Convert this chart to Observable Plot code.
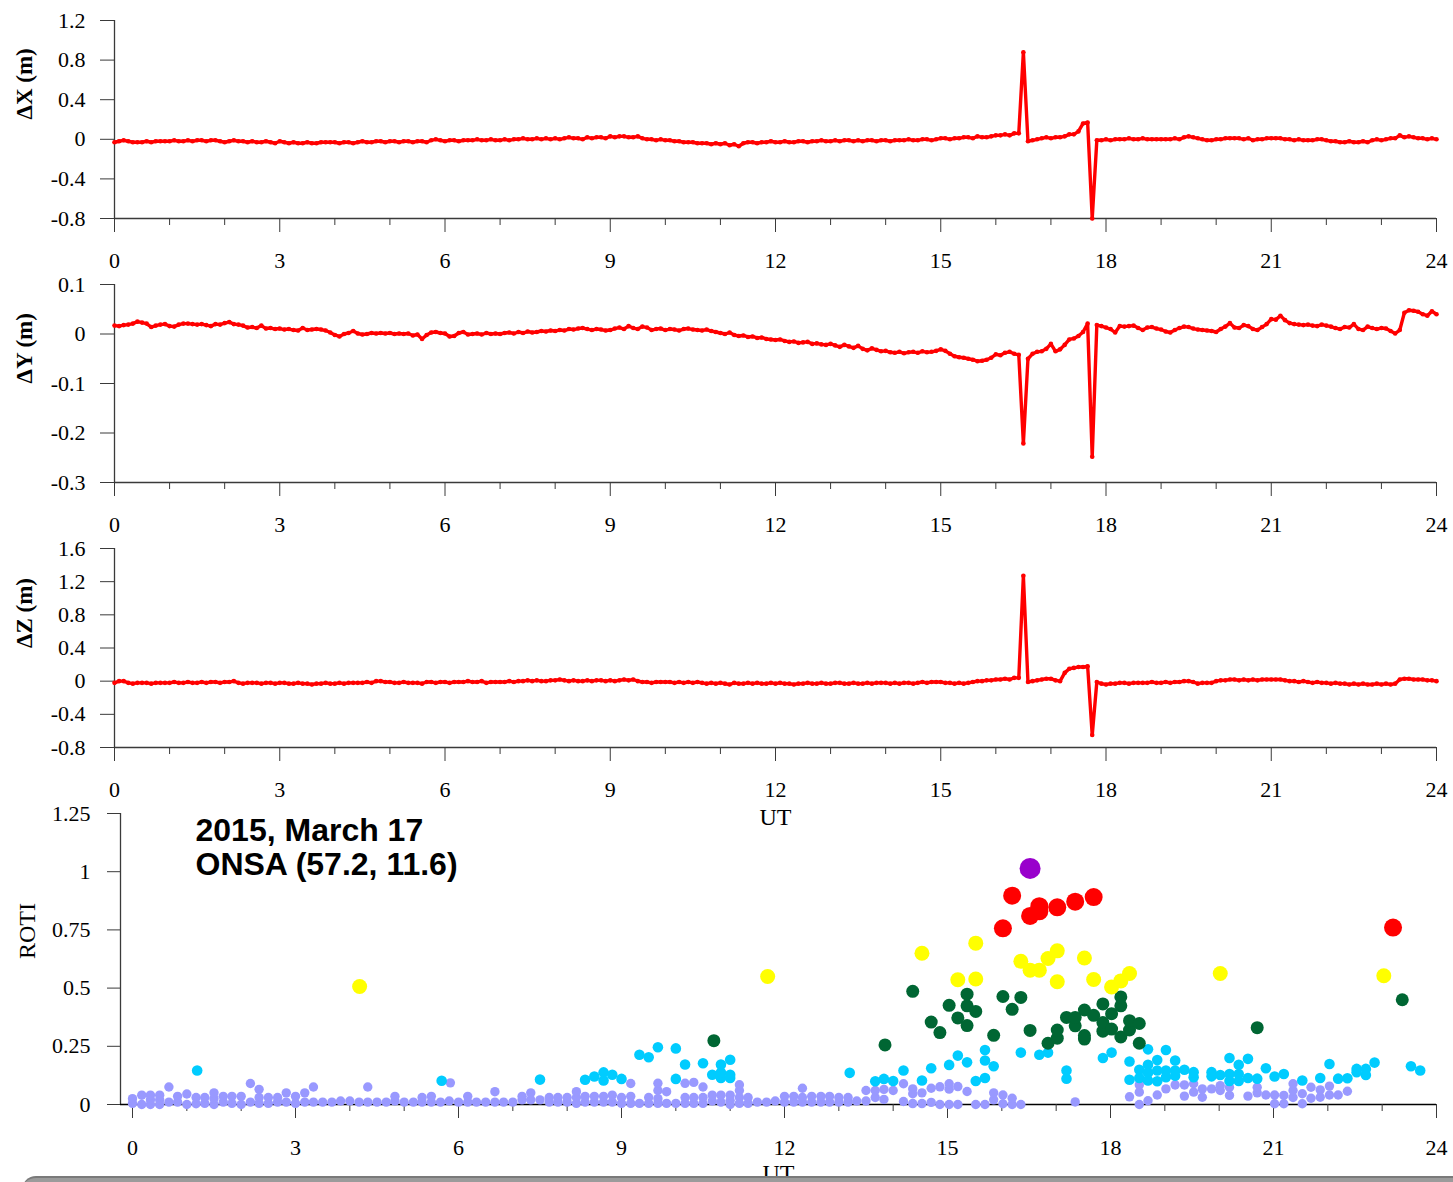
<!DOCTYPE html>
<html><head><meta charset="utf-8">
<script src="https://cdn.jsdelivr.net/npm/d3@7"></script>
<script src="https://cdn.jsdelivr.net/npm/@observablehq/plot@0.6"></script>
<style>
html,body{margin:0;padding:0;background:#fff;}
#root{position:relative;width:1453px;height:1182px;overflow:hidden;background:#fff;}
#root > svg{position:absolute;left:0;}
.bar{position:absolute;left:22px;top:1176px;width:1460px;height:30px;border-radius:14px;background:#9b9b9b;border-top:2px solid #7a7a7a;}
</style></head><body><div id="root"></div><script>
// ---- sampling step of the position series: 5 minutes ----
const stepHours = 5 / 60;

// ΔX (m), 5-min samples, 00:00 .. 24:00 (one row per hour)
const deltaX = [
-0.03,-0.02,-0.01,-0.02,-0.03,-0.03,-0.03,-0.02,-0.03,-0.02,-0.02,-0.02,
-0.02,-0.01,-0.02,-0.02,-0.01,-0.02,-0.01,-0.01,-0.02,-0.01,-0.01,-0.02,
-0.03,-0.02,-0.01,-0.02,-0.02,-0.03,-0.02,-0.03,-0.03,-0.02,-0.03,-0.04,
-0.02,-0.03,-0.04,-0.03,-0.04,-0.04,-0.03,-0.04,-0.04,-0.03,-0.03,-0.03,
-0.03,-0.04,-0.03,-0.03,-0.04,-0.03,-0.02,-0.03,-0.03,-0.02,-0.02,-0.03,
-0.02,-0.02,-0.03,-0.02,-0.02,-0.03,-0.02,-0.02,-0.03,-0.01,0.00,-0.01,
-0.02,-0.01,-0.01,-0.02,-0.01,-0.01,-0.01,0.00,-0.01,-0.01,0.00,-0.01,
-0.01,0.00,-0.01,0.00,0.00,0.01,0.00,0.00,0.01,0.00,0.01,0.00,
0.01,0.00,0.01,0.02,0.01,0.01,0.00,0.02,0.01,0.02,0.02,0.01,
0.03,0.02,0.03,0.03,0.02,0.02,0.03,0.01,0.00,0.00,-0.01,0.00,
-0.01,-0.01,-0.02,-0.02,-0.03,-0.03,-0.03,-0.04,-0.04,-0.04,-0.05,-0.04,
-0.05,-0.04,-0.06,-0.05,-0.07,-0.04,-0.03,-0.03,-0.04,-0.03,-0.03,-0.02,
-0.03,-0.03,-0.02,-0.03,-0.03,-0.02,-0.02,-0.03,-0.02,-0.02,-0.01,-0.02,
-0.02,-0.01,-0.02,-0.01,-0.01,-0.02,-0.01,-0.02,-0.01,-0.01,-0.02,-0.01,
-0.01,-0.02,-0.01,-0.01,-0.01,0.00,-0.01,-0.01,0.00,0.00,-0.01,0.00,
0.01,0.01,0.00,0.01,0.01,0.02,0.02,0.01,0.03,0.02,0.02,0.03,
0.04,0.04,0.05,0.04,0.06,0.06,0.88,-0.02,-0.01,0.00,0.01,0.02,
0.01,0.02,0.02,0.03,0.05,0.05,0.08,0.16,0.17,-0.80,-0.01,-0.01,
0.00,-0.01,0.00,0.00,0.00,0.01,0.00,0.00,0.01,0.00,0.00,0.00,
0.00,0.00,0.00,0.01,0.00,0.02,0.03,0.02,0.01,0.00,-0.01,-0.01,
0.00,0.00,0.01,0.01,0.01,0.01,0.00,0.01,-0.01,0.00,0.00,0.01,
0.01,0.01,0.01,0.00,0.00,-0.01,0.00,-0.01,-0.01,-0.01,0.00,0.00,
-0.01,-0.02,-0.02,-0.03,-0.03,-0.02,-0.03,-0.03,-0.02,-0.03,-0.01,0.00,
-0.01,0.00,0.01,0.01,0.04,0.02,0.03,0.02,0.01,0.01,0.00,0.01,
0.00];

// ΔY (m)
const deltaY = [
0.017,0.016,0.018,0.019,0.021,0.025,0.023,0.021,0.014,0.017,0.019,0.020,
0.016,0.015,0.019,0.021,0.021,0.020,0.019,0.020,0.018,0.016,0.020,0.019,
0.022,0.024,0.020,0.019,0.017,0.013,0.014,0.012,0.017,0.011,0.012,0.010,
0.011,0.009,0.010,0.008,0.007,0.012,0.008,0.009,0.010,0.009,0.007,0.003,
-0.002,-0.005,0.000,0.002,0.006,0.001,-0.001,0.000,0.002,0.001,0.002,0.001,
0.002,0.000,0.001,0.000,0.001,-0.003,-0.001,-0.010,-0.002,0.003,0.004,0.002,
0.001,-0.005,-0.004,0.002,0.004,-0.001,0.000,0.001,-0.001,0.002,0.000,0.001,
0.000,0.002,0.003,0.001,0.004,0.002,0.005,0.003,0.004,0.006,0.005,0.007,
0.006,0.008,0.007,0.010,0.009,0.011,0.012,0.010,0.008,0.010,0.009,0.007,
0.008,0.011,0.013,0.010,0.016,0.012,0.010,0.015,0.013,0.008,0.010,0.011,
0.008,0.010,0.009,0.007,0.010,0.011,0.009,0.008,0.007,0.009,0.006,0.004,
0.002,0.000,0.003,-0.002,-0.004,-0.003,-0.006,-0.005,-0.008,-0.007,-0.010,-0.011,
-0.012,-0.011,-0.014,-0.016,-0.015,-0.018,-0.017,-0.016,-0.020,-0.019,-0.021,-0.022,
-0.020,-0.023,-0.026,-0.022,-0.025,-0.028,-0.024,-0.030,-0.033,-0.029,-0.032,-0.035,
-0.034,-0.037,-0.038,-0.036,-0.039,-0.037,-0.036,-0.038,-0.035,-0.037,-0.036,-0.034,
-0.031,-0.034,-0.040,-0.045,-0.047,-0.048,-0.050,-0.052,-0.055,-0.054,-0.052,-0.048,
-0.041,-0.043,-0.038,-0.036,-0.040,-0.042,-0.221,-0.050,-0.040,-0.036,-0.035,-0.030,
-0.020,-0.035,-0.031,-0.022,-0.011,-0.009,-0.004,0.004,0.021,-0.248,0.018,0.016,
0.013,0.010,0.003,0.016,0.015,0.016,0.017,0.012,0.008,0.013,0.014,0.011,
0.009,0.005,0.003,0.008,0.012,0.015,0.014,0.011,0.009,0.008,0.007,0.006,
0.004,0.010,0.015,0.022,0.013,0.012,0.018,0.016,0.010,0.008,0.014,0.020,
0.030,0.029,0.037,0.028,0.022,0.020,0.019,0.018,0.019,0.017,0.016,0.019,
0.017,0.015,0.012,0.010,0.014,0.013,0.020,0.010,0.008,0.015,0.012,0.010,
0.012,0.011,0.006,0.001,0.008,0.043,0.048,0.047,0.045,0.040,0.037,0.046,
0.040];

// ΔZ (m)
const deltaZ = [
-0.02,0.00,0.00,-0.02,-0.03,-0.02,-0.02,-0.02,-0.03,-0.02,-0.02,-0.02,
-0.02,-0.01,-0.02,-0.02,-0.01,-0.02,-0.02,-0.01,-0.02,-0.01,-0.01,-0.02,
-0.01,-0.01,0.00,-0.02,-0.03,-0.02,-0.02,-0.02,-0.03,-0.02,-0.02,-0.03,
-0.02,-0.02,-0.03,-0.03,-0.02,-0.03,-0.03,-0.04,-0.03,-0.03,-0.02,-0.03,
-0.03,-0.02,-0.03,-0.02,-0.02,-0.02,-0.02,-0.01,-0.02,0.00,0.00,-0.01,
-0.01,-0.02,-0.02,-0.01,-0.02,-0.02,-0.02,-0.03,-0.01,-0.01,-0.02,-0.01,
-0.01,-0.02,-0.01,-0.01,-0.01,0.00,-0.01,-0.01,0.00,-0.02,-0.01,-0.01,
-0.01,-0.01,0.00,-0.01,0.00,0.00,0.01,0.00,0.01,0.00,0.00,0.01,
0.01,0.02,0.01,0.00,0.01,0.00,0.00,0.01,0.00,0.01,0.01,0.00,
0.01,0.00,0.01,0.02,0.01,0.02,0.00,-0.01,-0.01,-0.02,-0.01,-0.01,
-0.01,-0.01,-0.02,-0.01,-0.02,-0.01,-0.02,-0.01,-0.02,-0.03,-0.02,-0.03,
-0.02,-0.03,-0.04,-0.02,-0.03,-0.03,-0.02,-0.03,-0.02,-0.03,-0.03,-0.02,
-0.03,-0.02,-0.03,-0.03,-0.04,-0.03,-0.03,-0.02,-0.03,-0.03,-0.02,-0.03,
-0.03,-0.02,-0.02,-0.03,-0.03,-0.02,-0.03,-0.03,-0.02,-0.03,-0.02,-0.02,
-0.02,-0.03,-0.02,-0.03,-0.02,-0.02,-0.03,-0.02,-0.01,-0.02,-0.01,-0.01,
-0.01,-0.02,-0.02,-0.03,-0.02,-0.03,-0.02,-0.01,0.00,0.00,0.01,0.01,
0.02,0.02,0.03,0.02,0.04,0.04,1.27,-0.01,0.00,0.01,0.02,0.03,
0.03,0.01,0.00,0.10,0.15,0.16,0.17,0.17,0.18,-0.65,-0.01,-0.03,
-0.04,-0.03,-0.03,-0.02,-0.02,-0.03,-0.02,-0.02,-0.02,-0.02,-0.01,-0.02,
-0.02,-0.01,-0.02,-0.01,-0.01,0.00,0.00,-0.01,-0.03,-0.02,-0.02,-0.02,
0.00,0.01,0.01,0.02,0.02,0.01,0.02,0.01,0.02,0.01,0.02,0.02,
0.02,0.02,0.02,0.01,0.00,0.00,-0.01,0.00,-0.01,-0.02,-0.01,-0.02,
-0.02,-0.03,-0.02,-0.03,-0.03,-0.04,-0.03,-0.04,-0.03,-0.04,-0.04,-0.03,
-0.04,-0.03,-0.04,-0.03,0.02,0.03,0.03,0.02,0.02,0.02,0.01,0.01,
0.00];

// ROTI points: [UT hour, ROTI]
const rotiPoints = [
[0.00,0.005],[0.00,0.025],[0.17,0.00],[0.17,0.04],[0.33,0.00],[0.33,0.02],[0.33,0.04],
[0.50,0.00],[0.50,0.02],[0.50,0.04],[0.67,0.01],[0.67,0.075],[0.83,0.01],[0.83,0.035],
[1.00,0.00],[1.00,0.045],[1.17,0.003],[1.17,0.03],[1.19,0.146],[1.33,0.005],[1.33,0.03],
[1.50,0.00],[1.50,0.025],[1.50,0.05],[1.67,0.01],[1.67,0.035],[1.83,0.005],[1.83,0.035],
[2.00,0.00],[2.00,0.035],[2.17,0.01],[2.17,0.09],[2.33,0.005],[2.33,0.03],[2.33,0.065],
[2.50,0.005],[2.50,0.03],[2.67,0.01],[2.67,0.03],[2.83,0.01],[2.83,0.05],
[3.00,0.005],[3.00,0.035],[3.17,0.01],[3.17,0.05],[3.33,0.01],[3.33,0.075],
[3.50,0.01],[3.67,0.01],[3.83,0.015],[4.00,0.015],[4.17,0.01],[4.18,0.507],
[4.33,0.01],[4.33,0.075],[4.50,0.01],[4.67,0.01],[4.83,0.015],[4.83,0.035],
[5.00,0.01],[5.17,0.01],[5.33,0.01],[5.33,0.03],[5.50,0.01],[5.50,0.035],
[5.67,0.01],[5.69,0.102],[5.83,0.015],[5.85,0.093],[6.00,0.01],[6.17,0.01],[6.17,0.035],
[6.33,0.01],[6.50,0.01],[6.67,0.01],[6.67,0.055],[6.83,0.01],[7.00,0.01],
[7.17,0.02],[7.17,0.035],[7.33,0.02],[7.33,0.05],[7.50,0.02],[7.50,0.107],
[7.67,0.01],[7.67,0.03],[7.83,0.01],[7.83,0.03],[8.00,0.01],[8.00,0.03],
[8.17,0.005],[8.17,0.03],[8.17,0.055],[8.33,0.01],[8.33,0.035],[8.33,0.106],
[8.50,0.01],[8.50,0.035],[8.50,0.12],[8.67,0.01],[8.67,0.035],[8.67,0.103],[8.67,0.138],
[8.83,0.01],[8.83,0.04],[8.83,0.128],[9.00,0.005],[9.00,0.03],[9.00,0.11],
[9.17,0.005],[9.17,0.035],[9.17,0.09],[9.33,0.005],[9.33,0.214],
[9.50,0.005],[9.50,0.03],[9.50,0.203],[9.67,0.005],[9.67,0.025],[9.67,0.06],[9.67,0.091],[9.67,0.246],
[9.83,0.005],[9.83,0.055],[10.00,0.005],[10.00,0.11],[10.00,0.241],
[10.17,0.005],[10.17,0.03],[10.17,0.091],[10.17,0.172],[10.33,0.005],[10.33,0.03],[10.33,0.095],
[10.50,0.005],[10.50,0.03],[10.50,0.075],[10.50,0.177],
[10.67,0.015],[10.67,0.04],[10.67,0.128],[10.70,0.274],
[10.83,0.01],[10.83,0.04],[10.83,0.114],[10.83,0.138],[10.83,0.172],
[11.00,0.00],[11.00,0.017],[11.00,0.04],[11.00,0.114],[11.00,0.128],[11.00,0.192],
[11.17,0.005],[11.17,0.03],[11.17,0.06],[11.17,0.085],[11.33,0.005],[11.33,0.03],
[11.50,0.01],[11.67,0.01],[11.69,0.55],[11.83,0.015],
[12.00,0.01],[12.00,0.035],[12.17,0.01],[12.17,0.035],[12.33,0.01],[12.33,0.03],[12.33,0.07],
[12.50,0.01],[12.50,0.035],[12.67,0.01],[12.67,0.035],[12.83,0.01],[12.83,0.035],
[13.00,0.01],[13.00,0.03],[13.17,0.01],[13.17,0.03],[13.20,0.136],[13.33,0.015],
[13.50,0.015],[13.50,0.06],[13.67,0.03],[13.67,0.06],[13.67,0.10],
[13.83,0.022],[13.83,0.065],[13.83,0.11],[13.85,0.256],[14.00,0.06],[14.00,0.101],
[14.19,0.013],[14.19,0.089],[14.19,0.146],
[14.36,0.004],[14.36,0.046],[14.36,0.067],[14.36,0.486],
[14.53,0.004],[14.53,0.05],[14.53,0.103],[14.53,0.65],
[14.70,0.009],[14.70,0.07],[14.70,0.156],[14.70,0.354],
[14.86,0.00],[14.86,0.076],[14.86,0.309],
[15.03,0.00],[15.03,0.066],[15.03,0.089],[15.03,0.17],[15.03,0.426],
[15.19,0.00],[15.19,0.077],[15.19,0.21],[15.19,0.372],[15.19,0.536],
[15.36,0.056],[15.36,0.181],[15.36,0.339],[15.36,0.424],[15.36,0.474],
[15.52,0.00],[15.52,0.101],[15.52,0.40],[15.52,0.539],[15.52,0.693],
[15.69,0.00],[15.69,0.114],[15.69,0.189],[15.69,0.234],
[15.85,0.02],[15.85,0.05],[15.85,0.164],[15.85,0.297],
[16.02,0.003],[16.02,0.041],[16.02,0.464],[16.02,0.757],
[16.19,0.00],[16.19,0.027],[16.19,0.409],[16.19,0.897],
[16.35,0.00],[16.35,0.223],[16.35,0.46],[16.35,0.615],
[16.52,0.318],[16.52,0.577],[16.52,0.81],[16.52,1.014],
[16.69,0.214],[16.69,0.577],[16.69,0.83],[16.69,0.852],
[16.85,0.223],[16.85,0.263],[16.85,0.627],
[17.02,0.285],[17.02,0.32],[17.02,0.527],[17.02,0.66],[17.02,0.847],
[17.19,0.111],[17.19,0.146],[17.19,0.374],
[17.35,0.011],[17.35,0.338],[17.35,0.374],[17.35,0.871],
[17.52,0.281],[17.52,0.296],[17.52,0.406],[17.52,0.629],
[17.69,0.383],[17.69,0.537],[17.69,0.891],
[17.86,0.20],[17.86,0.315],[17.86,0.352],[17.86,0.432],
[18.02,0.223],[18.02,0.324],[18.02,0.39],[18.02,0.505],
[18.19,0.29],[18.19,0.424],[18.19,0.462],[18.19,0.531],
[18.35,0.033],[18.35,0.106],[18.35,0.185],[18.35,0.32],[18.35,0.36],[18.35,0.563],
[18.53,0.00],[18.53,0.053],[18.53,0.084],[18.53,0.114],[18.53,0.149],[18.53,0.263],[18.53,0.348],
[18.69,0.016],[18.69,0.103],[18.69,0.136],[18.69,0.171],[18.69,0.237],
[18.86,0.041],[18.86,0.10],[18.86,0.146],[18.86,0.191],
[19.02,0.067],[19.02,0.117],[19.02,0.146],[19.02,0.234],
[19.19,0.084],[19.19,0.124],[19.19,0.146],[19.19,0.189],
[19.36,0.036],[19.36,0.084],[19.36,0.149],
[19.53,0.053],[19.53,0.089],[19.53,0.117],[19.53,0.139],
[19.69,0.031],[19.69,0.067],[19.86,0.067],[19.86,0.121],[19.86,0.139],
[20.02,0.06],[20.02,0.081],[20.02,0.127],[20.02,0.563],
[20.19,0.039],[20.19,0.074],[20.19,0.101],[20.19,0.131],[20.19,0.20],
[20.36,0.101],[20.36,0.131],[20.36,0.171],[20.53,0.036],[20.53,0.114],[20.53,0.196],
[20.70,0.05],[20.70,0.074],[20.70,0.111],[20.70,0.33],[20.86,0.041],[20.86,0.156],
[21.02,0.003],[21.02,0.041],[21.02,0.12],[21.19,0.003],[21.19,0.039],[21.19,0.131],
[21.36,0.03],[21.36,0.06],[21.36,0.089],[21.53,0.003],[21.53,0.046],[21.53,0.103],
[21.69,0.027],[21.69,0.074],[21.86,0.031],[21.86,0.063],[21.86,0.114],
[22.03,0.041],[22.03,0.079],[22.03,0.174],[22.19,0.041],[22.19,0.111],
[22.36,0.057],[22.36,0.113],[22.53,0.139],[22.53,0.153],[22.70,0.127],[22.70,0.153],
[22.86,0.18],[23.03,0.553],[23.20,0.76],[23.37,0.45],[23.53,0.164],[23.70,0.146]
];

// ---- ticks & labels ----
const hourTicksMajor = [0,3,6,9,12,15,18,21,24];
const hourTicksMinor = [1,2,4,5,7,8,10,11,13,14,16,17,19,20,22,23];
const ticksX = [-0.8,-0.4,0,0.4,0.8,1.2];
const ticksY = [-0.3,-0.2,-0.1,0,0.1];
const ticksZ = [-0.8,-0.4,0,0.4,0.8,1.2,1.6];
const ticksRoti = [0,0.25,0.5,0.75,1,1.25];
const rotiThresholds = [0.1,0.25,0.5,0.75,1.0];
const rotiColors = ["#9999ff","#00ccff","#006633","#ffff00","#ff0000","#9900cc"];
const rotiRadii = [4.7,5.3,6.5,7.5,9,10.5];
const annotation = "2015, March 17\nONSA (57.2, 11.6)";

// ---- drawing ----
const AXIS = "#3a3a3a";
const SERIF = "'Liberation Serif','Times New Roman',serif";
const root = document.getElementById("root");
const fmt = d => String(d);

function place(svg, top) { svg.style.position = "absolute"; svg.style.top = top + "px"; svg.style.left = "0px"; root.appendChild(svg); }

function linePanel({values, domain, ticks, label, top, height, marginBottom, utLabel}) {
  const data = values.map((v, i) => ({t: i * stepHours, v}));
  const marks = [
    Plot.ruleX([0], {stroke: AXIS, strokeWidth: 1.3}),
    Plot.ruleY([domain[0]], {stroke: AXIS, strokeWidth: 1.3}),
    Plot.axisY({ticks, tickSize: 14, tickPadding: 15, tickFormat: fmt, label: null, fontSize: 22, stroke: AXIS, fill: "#000"}),
    Plot.axisX({ticks: hourTicksMinor, tickSize: 7, tickFormat: () => "", label: null, stroke: AXIS}),
    Plot.axisX({ticks: hourTicksMajor, tickSize: 14, tickPadding: 20, tickFormat: fmt, label: null, fontSize: 22, stroke: AXIS, fill: "#000"}),
    Plot.line(data, {x: "t", y: "v", stroke: "#ff0000", strokeWidth: 3.4}),
    Plot.dot(data, {x: "t", y: "v", r: 2.3, fill: "#ff0000"}),
    Plot.text([label], {text: d => d, frameAnchor: "left", dx: -90, rotate: -90, fontWeight: "bold", fontSize: 23, fill: "#000"})
  ];
  if (utLabel) marks.push(Plot.text(["UT"], {text: d => d, frameAnchor: "bottom", dy: 77, fontSize: 24, fill: "#000"}));
  const svg = Plot.plot({
    width: 1453, height, marginLeft: 114, marginRight: 17, marginTop: 20, marginBottom,
    x: {domain: [0, 24]}, y: {domain},
    style: {background: "transparent", overflow: "visible", fontFamily: SERIF, fontSize: "22px", color: "#000"},
    marks
  });
  place(svg, top);
}

linePanel({values: deltaX, domain: [-0.8, 1.2], ticks: ticksX, label: "ΔX (m)", top: 0, height: 280, marginBottom: 62});
linePanel({values: deltaY, domain: [-0.3, 0.1], ticks: ticksY, label: "ΔY (m)", top: 264, height: 280, marginBottom: 62});
linePanel({values: deltaZ, domain: [-0.8, 1.6], ticks: ticksZ, label: "ΔZ (m)", top: 528, height: 300, marginBottom: 81, utLabel: true});

// ROTI panel
const binOf = v => { let b = 0; while (b < rotiThresholds.length && v >= rotiThresholds[b]) b++; return b; };
const rotiXMin = -0.221;
const rotiMarks = [
  Plot.ruleX([rotiXMin], {stroke: AXIS, strokeWidth: 1.3}),
  Plot.ruleY([0], {stroke: "#000", strokeWidth: 1.3}),
  Plot.axisY({ticks: ticksRoti, tickSize: 13, tickPadding: 17, tickFormat: fmt, label: null, fontSize: 22, stroke: AXIS, fill: "#000"}),
  Plot.axisX({ticks: hourTicksMinor, tickSize: 7, tickFormat: () => "", label: null, stroke: AXIS}),
  Plot.axisX({ticks: hourTicksMajor, tickSize: 14, tickPadding: 21, tickFormat: fmt, label: null, fontSize: 22, stroke: AXIS, fill: "#000"})
];
rotiColors.forEach((_, b) => {
  rotiMarks.push(Plot.dot(rotiPoints.filter(p => binOf(p[1]) === b), {
    x: d => d[0], y: d => d[1], r: rotiRadii[b], fill: d => d[1], sort: null
  }));
});
rotiMarks.push(
  Plot.text(["ROTI"], {text: d => d, frameAnchor: "left", dx: -93, rotate: -90, fontSize: 24, fill: "#000"}),
  Plot.text(["UT"], {text: d => d, frameAnchor: "bottom", dy: 76, fontSize: 24, fill: "#000"}),
  Plot.text([annotation], {text: d => d, frameAnchor: "top-left", dx: 75, dy: 3, lineAnchor: "top", textAnchor: "start",
    fontFamily: "'Liberation Sans',Arial,sans-serif", fontWeight: "bold", fontSize: 32, lineHeight: 1.06, fill: "#000"})
);
const roti = Plot.plot({
  width: 1453, height: 390, marginLeft: 120, marginRight: 17, marginTop: 21, marginBottom: 78,
  x: {domain: [rotiXMin, 24]}, y: {domain: [0, 1.25]},
  color: {type: "threshold", domain: rotiThresholds, range: rotiColors},
  style: {background: "transparent", overflow: "visible", fontFamily: SERIF, fontSize: "22px", color: "#000"},
  marks: rotiMarks
});
place(roti, 792);

const bar = document.createElement("div");
bar.className = "bar";
root.appendChild(bar);
</script></body></html>
